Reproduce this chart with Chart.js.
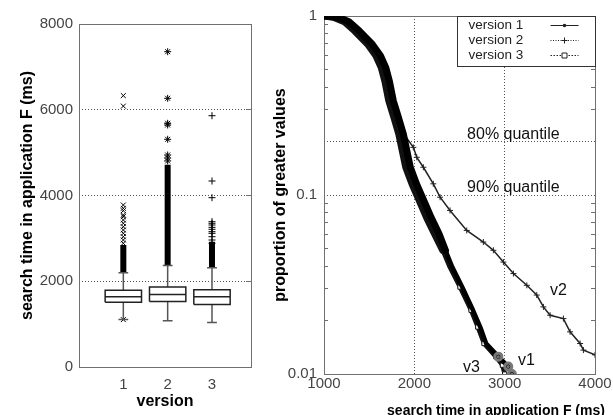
<!DOCTYPE html>
<html>
<head>
<meta charset="utf-8">
<script src="https://cdn.jsdelivr.net/npm/chart.js@4.4.0/dist/chart.umd.min.js"></script>
<style>
  html, body { margin: 0; padding: 0; background: #fff; }
  #wrap { position: relative; width: 613px; height: 415px; overflow: hidden; }
  canvas { position: absolute; top: 0; }
  #boxCanvas { left: 0; }
  #ccdfCanvas { left: 252px; }
</style>
</head>
<body>
<div id="wrap">
  <canvas id="boxCanvas" width="262" height="415"></canvas>
  <canvas id="ccdfCanvas" width="361" height="415"></canvas>
</div>
<script>
// ---- left panel: box plot of the search times per version
const versions = [1, 2, 3];
const boxQ1 = [1510, 1530, 1460];
const boxMedian = [1640, 1690, 1640];
const boxQ3 = [1790, 1865, 1800];
const whiskerLow = [1110, 1080, 1035];
const whiskerHigh = [2200, 2365, 2315];
// outliers drawn one by one
const outliersV1 = [6330, 6085, 3778, 3700, 3646, 3545, 3506, 3429, 3352, 3272, 3195, 3118, 3039, 2962, 2885, 1105];
const outliersV2 = [7354, 6267, 5684, 5644, 5311, 4945, 4875, 4805];
const outliersV3 = [5861, 4338, 3949, 3389, 3352, 3312, 3258, 3212, 3156, 3118, 3039, 2962, 2885];
// runs so dense with outliers that they print as a solid column
const denseV1 = [2200, 2845];
const denseV2 = [2365, 4720];
const denseV3 = [2315, 2920];
const boxYTicks = [0, 2000, 4000, 6000, 8000];

// ---- right panel: proportion of search times greater than x
const v1Time = [1000, 1155, 1275, 1390, 1534, 1625, 1684, 1725, 1767, 1825, 1878, 1955, 2025, 2088, 2185, 2273, 2345, 2420, 2530, 2650, 2730, 2795, 2930, 3040, 3080];
const v1Prop = [1.0, 0.985, 0.93, 0.825, 0.696, 0.60, 0.515, 0.43, 0.336, 0.27, 0.219, 0.143, 0.115, 0.0972, 0.075, 0.0608, 0.049, 0.0396, 0.0306, 0.0227, 0.0183, 0.0148, 0.0125, 0.0110, 0.0100];
const v2Time = [1000, 1175, 1295, 1410, 1554, 1645, 1704, 1745, 1787, 1845, 1870, 1989, 2027, 2100, 2210, 2285, 2395, 2580, 2764, 2875, 2986, 3097, 3245, 3355, 3429, 3503, 3650, 3724, 3835, 3872, 4000];
const v2Prop = [1.0, 0.985, 0.93, 0.825, 0.696, 0.60, 0.515, 0.43, 0.336, 0.27, 0.224, 0.1846, 0.1624, 0.1429, 0.1155, 0.0972, 0.082, 0.0634, 0.0546, 0.0491, 0.0422, 0.0364, 0.0313, 0.0276, 0.0237, 0.0213, 0.0204, 0.0172, 0.0148, 0.0136, 0.0128];
const v3Time = [1000, 1105, 1225, 1340, 1484, 1575, 1634, 1675, 1717, 1775, 1828, 1905, 1975, 2038, 2135, 2223, 2315, 2392, 2505, 2628, 2702, 2771, 2902, 2975, 3000];
const v3Prop = [1.0, 0.985, 0.93, 0.825, 0.696, 0.60, 0.515, 0.43, 0.336, 0.27, 0.219, 0.143, 0.115, 0.0972, 0.075, 0.0608, 0.049, 0.0396, 0.0306, 0.0227, 0.0183, 0.0148, 0.0125, 0.0112, 0.0100];
const ccdfXTicks = [1000, 2000, 3000, 4000];
const ccdfYTicks = [0.01, 0.1, 0.2, 1];
const ccdfYLabels = { 1: '1', 0.1: '0.1', 0.01: '0.01' };
const ccdfMinorTicks = [0.02, 0.03, 0.04, 0.05, 0.06, 0.07, 0.08, 0.09, 0.3, 0.4, 0.5, 0.6, 0.7, 0.8, 0.9];
const legendLabels = ['version 1', 'version 2', 'version 3'];

Chart.defaults.font.family = '"Liberation Sans", Arial, sans-serif';

const FRAME = '#707070';
const GRID = '#555';
const TICK_TEXT = '#444';
const BOX_HALF = 0.41;
const CAP_HALF = 0.11;
const crisp = p => Math.round(p - 0.5) + 0.5;
const gap = v => ({ x: v, y: null });

function boxOutline() {
    const pts = [];
    versions.forEach((v, i) => {
        pts.push({ x: v - BOX_HALF, y: boxQ1[i] }, { x: v + BOX_HALF, y: boxQ1[i] },
            { x: v + BOX_HALF, y: boxQ3[i] }, { x: v - BOX_HALF, y: boxQ3[i] },
            { x: v - BOX_HALF, y: boxQ1[i] }, gap(v));
        pts.push({ x: v - BOX_HALF, y: boxMedian[i] }, { x: v + BOX_HALF, y: boxMedian[i] }, gap(v));
    });
    return pts;
}

function whiskers() {
    const pts = [];
    versions.forEach((v, i) => {
        pts.push({ x: v, y: boxQ3[i] }, { x: v, y: whiskerHigh[i] }, gap(v));
        pts.push({ x: v, y: boxQ1[i] }, { x: v, y: whiskerLow[i] }, gap(v));
        pts.push({ x: v - CAP_HALF, y: whiskerHigh[i] }, { x: v + CAP_HALF, y: whiskerHigh[i] }, gap(v));
        pts.push({ x: v - CAP_HALF, y: whiskerLow[i] }, { x: v + CAP_HALF, y: whiskerLow[i] }, gap(v));
    });
    return pts;
}

function denseColumns() {
    const pts = [];
    [denseV1, denseV2, denseV3].forEach((run, i) => {
        pts.push({ x: versions[i], y: run[0] }, { x: versions[i], y: run[1] }, gap(versions[i]));
    });
    return pts;
}

const outlierSet = (values, v, style) => ({
    data: values.map(y => ({ x: v, y })),
    pointStyle: style,
    pointRadius: 3.5,
    borderColor: '#000',
    backgroundColor: '#000',
    pointBorderWidth: 1,
});

const boxFrame = {
    id: 'boxFrame',
    beforeDatasetsDraw(chart) {
        const { ctx, chartArea: a, scales: { y } } = chart;
        ctx.save();
        ctx.strokeStyle = FRAME;
        ctx.lineWidth = 1;
        ctx.beginPath();
        [2000, 4000, 6000].forEach(v => {
            const py = crisp(y.getPixelForValue(v));
            ctx.moveTo(a.right, py);
            ctx.lineTo(a.right - 5, py);
        });
        ctx.stroke();
        ctx.strokeRect(crisp(a.left), crisp(a.top), crisp(a.right) - crisp(a.left), crisp(a.bottom) - crisp(a.top));
        ctx.restore();
    }
};

new Chart(document.getElementById('boxCanvas'), {
    type: 'scatter',
    data: {
        datasets: [
            { data: boxOutline(), showLine: true, borderColor: '#222', borderWidth: 1.5, pointRadius: 0 },
            { data: whiskers(), showLine: true, borderColor: '#555', borderWidth: 1.5, pointRadius: 0 },
            outlierSet(outliersV1, 1, 'crossRot'),
            outlierSet(outliersV2, 2, 'star'),
            outlierSet(outliersV3, 3, 'cross'),
            { data: denseColumns(), showLine: true, borderColor: '#000', borderWidth: 6, pointRadius: 0, borderCapStyle: 'butt' },
        ]
    },
    options: {
        responsive: false,
        animation: false,
        layout: { padding: { left: 0, right: 11, top: 24, bottom: 0 } },
        plugins: { legend: { display: false }, tooltip: { enabled: false } },
        scales: {
            x: {
                type: 'linear', min: 0, max: 3.88,
                afterBuildTicks: s => { s.ticks = versions.map(v => ({ value: v })); },
                afterFit: s => { s.height = 48; },
                grid: { display: false },
                border: { display: false },
                ticks: { color: TICK_TEXT, font: { size: 15 }, padding: 1, maxRotation: 0, autoSkip: false, callback: v => String(v) },
                title: { display: true, text: 'version', color: '#000', font: { size: 16, weight: 'bold' }, padding: { top: 0, bottom: 3.5 } }
            },
            y: {
                type: 'linear', min: 0, max: 8000,
                afterBuildTicks: s => { s.ticks = boxYTicks.map(v => ({ value: v })); },
                afterFit: s => { s.width = 79; },
                grid: { color: GRID, drawTicks: false },
                border: { display: false, dash: [1, 2] },
                ticks: { color: TICK_TEXT, font: { size: 15 }, padding: 6, callback: v => String(v) },
                title: { display: true, text: 'search time in application F (ms)', color: '#000', font: { size: 16, weight: 'bold' }, padding: { top: 18, bottom: 0 } }
            }
        }
    },
    plugins: [boxFrame]
});

// ---- right panel
const pairs = (xs, ys) => xs.map((x, i) => ({ x, y: ys[i] }));
const thinBelow = (limit, thick, thin) => c => (c.p1.parsed.y < limit ? thin : thick);

const legendStyles = [
    { dash: [], marker: 'dot' },
    { dash: [1, 1.5], marker: 'plus' },
    { dash: [1.5, 1.5], marker: 'square' },
];

// text placed in data coordinates
const notes = [
    { text: '80% quantile', x: 2584, y: 0.2, dy: -2 },
    { text: '90% quantile', x: 2584, y: 0.1, dy: -3 },
    { text: 'v2', x: 3503, y: 0.0275, dy: 0 },
    { text: 'v1', x: 3148, y: 0.0112, dy: 0 },
    { text: 'v3', x: 2539, y: 0.0103, dy: 0 },
];

const ccdfDecor = {
    id: 'ccdfDecor',
    beforeDatasetsDraw(chart) {
        const { ctx, chartArea: a, scales: { y } } = chart;
        ctx.save();
        ctx.strokeStyle = FRAME;
        ctx.lineWidth = 1;
        ctx.beginPath();
        ccdfMinorTicks.forEach(v => {
            const py = crisp(y.getPixelForValue(v));
            ctx.moveTo(a.left, py); ctx.lineTo(a.left + 4, py);
            ctx.moveTo(a.right, py); ctx.lineTo(a.right - 4, py);
        });
        ctx.stroke();
        ctx.strokeRect(crisp(a.left), crisp(a.top), crisp(a.right) - crisp(a.left), crisp(a.bottom) - crisp(a.top));
        ctx.restore();
    },
    afterDatasetsDraw(chart) {
        const { ctx, chartArea: a, scales: { x, y } } = chart;
        ctx.save();
        // annotations
        ctx.fillStyle = '#111';
        ctx.font = '16px "Liberation Sans", Arial, sans-serif';
        ctx.textAlign = 'left';
        ctx.textBaseline = 'alphabetic';
        notes.forEach(n => ctx.fillText(n.text, x.getPixelForValue(n.x), y.getPixelForValue(n.y) + n.dy));

        // legend box in the top right corner
        const left = crisp(a.right - 138), top = crisp(a.top), bottom = crisp(a.top + 50), right = crisp(a.right);
        ctx.fillStyle = '#fff';
        ctx.fillRect(left, top, right - left, bottom - top);
        ctx.strokeStyle = '#333';
        ctx.lineWidth = 1;
        ctx.strokeRect(left, top, right - left, bottom - top);
        ctx.font = '13.5px "Liberation Sans", Arial, sans-serif';
        ctx.textBaseline = 'middle';
        legendLabels.forEach((label, i) => {
            const rowY = a.top + 9.5 + i * 15;
            ctx.fillStyle = '#222';
            ctx.fillText(label, left + 11, rowY);
            const st = legendStyles[i];
            const x0 = left + 93, x1 = left + 121, mx = (x0 + x1) / 2;
            ctx.strokeStyle = '#222';
            ctx.lineWidth = 1;
            ctx.setLineDash(st.dash);
            ctx.beginPath();
            ctx.moveTo(x0, crisp(rowY));
            ctx.lineTo(x1, crisp(rowY));
            ctx.stroke();
            ctx.setLineDash([]);
            ctx.beginPath();
            if (st.marker === 'dot') {
                ctx.fillStyle = '#222';
                ctx.arc(mx, crisp(rowY), 1.8, 0, Math.PI * 2);
                ctx.fill();
            } else if (st.marker === 'plus') {
                ctx.moveTo(mx - 3, crisp(rowY)); ctx.lineTo(mx + 3, crisp(rowY));
                ctx.moveTo(crisp(mx), rowY - 3); ctx.lineTo(crisp(mx), rowY + 3);
                ctx.stroke();
            } else {
                ctx.fillStyle = '#fff';
                ctx.rect(mx - 2.5, rowY - 2.5, 5, 5);
                ctx.fill();
                ctx.stroke();
            }
        });
        ctx.restore();
    },
    afterDraw(chart) {
        const { ctx } = chart;
        ctx.save();
        ctx.fillStyle = '#000';
        ctx.font = 'bold 14px "Liberation Sans", Arial, sans-serif';
        ctx.textAlign = 'center';
        ctx.textBaseline = 'alphabetic';
        ctx.fillText('search time in application F (ms)', 244, 414.5);
        ctx.restore();
    }
};

new Chart(document.getElementById('ccdfCanvas'), {
    type: 'scatter',
    data: {
        datasets: [
            {
                label: legendLabels[0], data: pairs(v1Time, v1Prop), showLine: true, clip: 0,
                borderColor: '#000', borderWidth: 7, borderCapStyle: 'round', borderJoinStyle: 'round',
                segment: { borderWidth: thinBelow(0.045, 7, 4.5) },
                pointStyle: 'circle', pointRadius: c => (c.raw && c.raw.y < 0.013 ? 1.5 : 0),
                pointBackgroundColor: '#777', pointBorderColor: '#777'
            },
            {
                label: legendLabels[2], data: pairs(v3Time, v3Prop), showLine: true, clip: 0,
                borderColor: '#111', borderWidth: 7, borderCapStyle: 'round', borderJoinStyle: 'round',
                segment: { borderWidth: thinBelow(0.045, 7, 4.5) },
                pointStyle: 'rect', pointRadius: c => (c.raw && c.raw.y < 0.035 ? 3 : 0),
                pointBackgroundColor: '#fff', pointBorderColor: '#111', pointBorderWidth: 1
            },
            {
                label: legendLabels[1], data: pairs(v2Time, v2Prop), showLine: true, clip: 0,
                borderColor: '#222', borderWidth: 1.5,
                pointStyle: 'cross', pointRadius: c => (c.raw && c.raw.y < 0.2 ? 3 : 0),
                pointBorderColor: '#222', pointBorderWidth: 1
            },
        ]
    },
    options: {
        responsive: false,
        animation: false,
        layout: { padding: { left: 0, right: 18, top: 15, bottom: 0 } },
        plugins: { legend: { display: false }, tooltip: { enabled: false } },
        scales: {
            x: {
                type: 'linear', min: 1000, max: 4000,
                afterBuildTicks: s => { s.ticks = ccdfXTicks.map(v => ({ value: v })); },
                afterFit: s => { s.height = 41; },
                grid: { color: c => (c.tick && (c.tick.value === 1000 || c.tick.value === 4000) ? 'rgba(0,0,0,0)' : GRID), drawTicks: false },
                border: { display: false, dash: [1, 2] },
                ticks: { color: TICK_TEXT, font: { size: 15 }, padding: 1, maxRotation: 0, autoSkip: false, callback: v => String(v) }
            },
            y: {
                type: 'logarithmic', min: 0.01, max: 1,
                afterBuildTicks: s => { s.ticks = ccdfYTicks.map(v => ({ value: v })); },
                afterFit: s => { s.width = 72; },
                grid: { color: c => (c.tick && (c.tick.value === 1 || c.tick.value === 0.01) ? 'rgba(0,0,0,0)' : GRID), drawTicks: false },
                border: { display: false, dash: [1, 2] },
                ticks: { color: TICK_TEXT, font: { size: 15 }, padding: 7, autoSkip: false, callback: v => ccdfYLabels[v] ?? '' },
                title: { display: true, text: 'proportion of greater values', color: '#000', font: { size: 16, weight: 'bold' }, padding: { top: 19, bottom: 0 } }
            }
        }
    },
    plugins: [ccdfDecor]
});
</script>
</body>
</html>
